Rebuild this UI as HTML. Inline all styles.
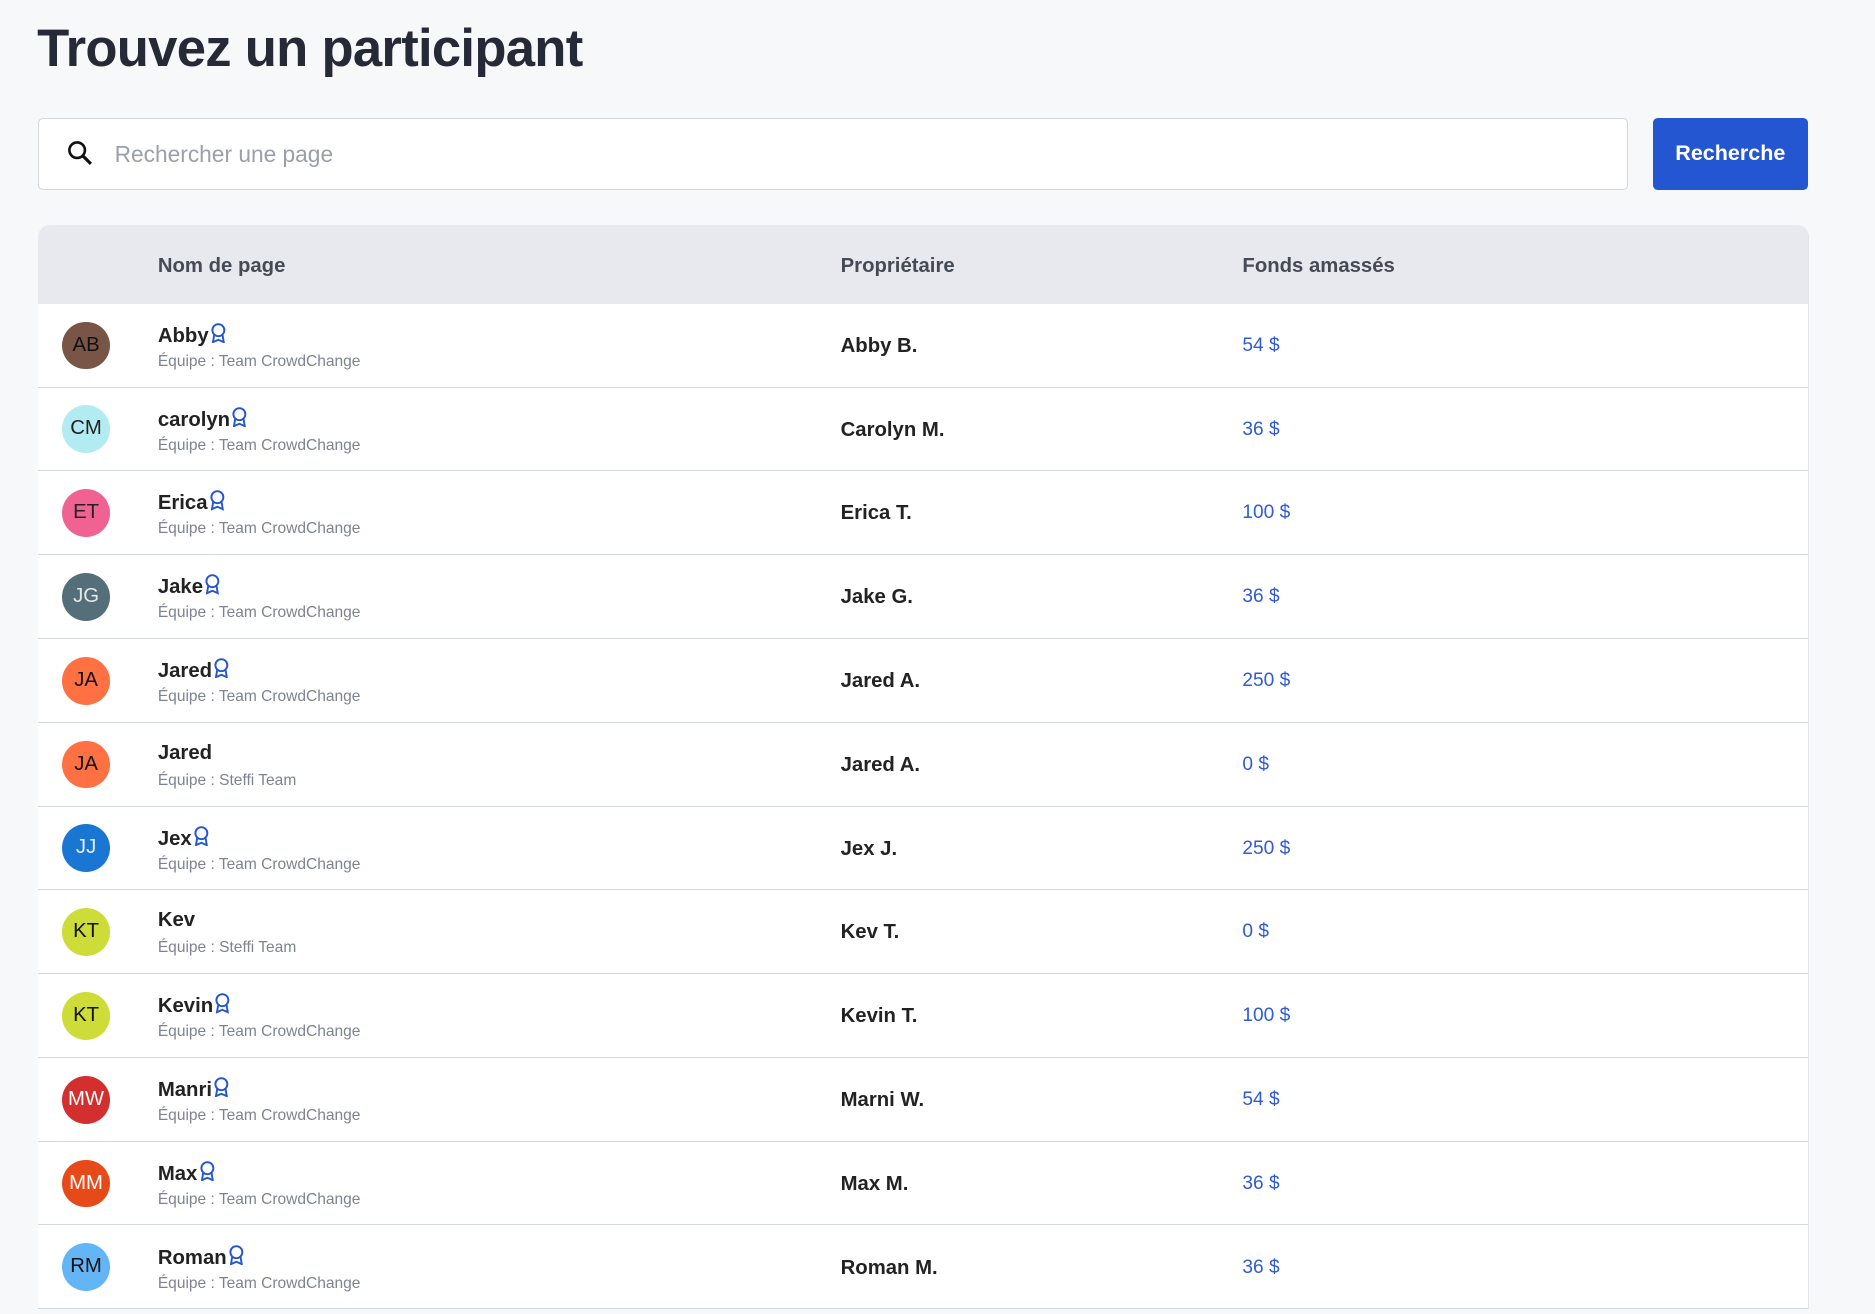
<!DOCTYPE html>
<html><head><meta charset="utf-8"><style>
html,body{margin:0;padding:0;background:#f7f8fa;}
body{width:1875px;height:1314px;overflow:hidden;font-family:"Liberation Sans",sans-serif;}
#w{zoom:1.19579;width:1568px;position:relative;height:1099px;}
h1{position:absolute;left:31px;top:15px;margin:0;font-size:44px;font-weight:bold;color:#252a36;letter-spacing:-0.6px;}
.search{position:absolute;left:32px;top:99px;width:1328px;height:58px;background:#fff;border:1px solid #d3d6dc;border-radius:4px;}
.search .ph{position:absolute;left:63px;top:18px;font-size:19px;color:#9a9fa8;}
.search svg{position:absolute;left:23px;top:17px;}
.btn{position:absolute;left:1382px;top:99px;width:130px;height:60px;background:#2356d0;border-radius:4px;color:#fff;font-weight:bold;font-size:18px;text-align:center;line-height:60px;}
.tbl{position:absolute;left:32px;top:188px;width:1480px;background:#fff;border-radius:10px 10px 0 0;border-right:1px solid #e2e4e8;overflow:hidden;}
.hd{height:66px;background:#e8e9ee;position:relative;font-size:17px;color:#454a55;font-weight:bold;}
.hd span{position:absolute;top:25px;}
.row{height:69.25px;border-bottom:1px solid #d3d8e0;position:relative;}
.av{position:absolute;left:20px;top:15px;width:40px;height:40px;border-radius:50%;text-align:center;line-height:40px;font-size:17px;}
.nm{position:absolute;left:100px;top:16px;font-size:17px;color:#222;font-weight:bold;}
.nm svg{vertical-align:-1px;margin-left:1px}
.sub{position:absolute;left:100px;top:41px;font-size:13px;color:#7d8390;}
.ow{position:absolute;left:671px;top:26px;font-size:17px;font-weight:bold;color:#222;}
.fd{position:absolute;left:1007px;top:26px;font-size:16px;color:#2f5bd3;}
</style></head><body><div id="w">
<h1>Trouvez un participant</h1>
<div class="search"><svg width="22" height="22" viewBox="0 0 22 22"><circle cx="8.5" cy="8.5" r="6.5" fill="none" stroke="#111" stroke-width="2.2"/><line x1="13.5" y1="13.5" x2="20" y2="20" stroke="#111" stroke-width="2.6"/></svg><span class="ph">Rechercher une page</span></div>
<div class="btn">Recherche</div>
<div class="tbl">
<div class="hd"><span style="left:100px">Nom de page</span><span style="left:671px">Propriétaire</span><span style="left:1007px">Fonds amassés</span></div>
<div class="row"><div class="av" style="background:#795548;color:#111">AB</div><div class="nm">Abby<svg width="14" height="17" viewBox="0 0 14 17"><circle cx="7" cy="6" r="5" fill="none" stroke="#2356d0" stroke-width="1.6"/><path d="M3.5 10 L2.5 16 L7 14 L11.5 16 L10.5 10" fill="none" stroke="#2356d0" stroke-width="1.6"/></svg></div><div class="sub">Équipe : Team CrowdChange</div><div class="ow">Abby B.</div><div class="fd">54 $</div></div>
<div class="row"><div class="av" style="background:#b2ebf2;color:#222">CM</div><div class="nm">carolyn<svg width="14" height="17" viewBox="0 0 14 17"><circle cx="7" cy="6" r="5" fill="none" stroke="#2356d0" stroke-width="1.6"/><path d="M3.5 10 L2.5 16 L7 14 L11.5 16 L10.5 10" fill="none" stroke="#2356d0" stroke-width="1.6"/></svg></div><div class="sub">Équipe : Team CrowdChange</div><div class="ow">Carolyn M.</div><div class="fd">36 $</div></div>
<div class="row"><div class="av" style="background:#f06292;color:#222">ET</div><div class="nm">Erica<svg width="14" height="17" viewBox="0 0 14 17"><circle cx="7" cy="6" r="5" fill="none" stroke="#2356d0" stroke-width="1.6"/><path d="M3.5 10 L2.5 16 L7 14 L11.5 16 L10.5 10" fill="none" stroke="#2356d0" stroke-width="1.6"/></svg></div><div class="sub">Équipe : Team CrowdChange</div><div class="ow">Erica T.</div><div class="fd">100 $</div></div>
<div class="row"><div class="av" style="background:#546e7a;color:#e8e8e8">JG</div><div class="nm">Jake<svg width="14" height="17" viewBox="0 0 14 17"><circle cx="7" cy="6" r="5" fill="none" stroke="#2356d0" stroke-width="1.6"/><path d="M3.5 10 L2.5 16 L7 14 L11.5 16 L10.5 10" fill="none" stroke="#2356d0" stroke-width="1.6"/></svg></div><div class="sub">Équipe : Team CrowdChange</div><div class="ow">Jake G.</div><div class="fd">36 $</div></div>
<div class="row"><div class="av" style="background:#ff7043;color:#111">JA</div><div class="nm">Jared<svg width="14" height="17" viewBox="0 0 14 17"><circle cx="7" cy="6" r="5" fill="none" stroke="#2356d0" stroke-width="1.6"/><path d="M3.5 10 L2.5 16 L7 14 L11.5 16 L10.5 10" fill="none" stroke="#2356d0" stroke-width="1.6"/></svg></div><div class="sub">Équipe : Team CrowdChange</div><div class="ow">Jared A.</div><div class="fd">250 $</div></div>
<div class="row"><div class="av" style="background:#ff7043;color:#111">JA</div><div class="nm">Jared</div><div class="sub">Équipe : Steffi Team</div><div class="ow">Jared A.</div><div class="fd">0 $</div></div>
<div class="row"><div class="av" style="background:#1976d2;color:#e8eefa">JJ</div><div class="nm">Jex<svg width="14" height="17" viewBox="0 0 14 17"><circle cx="7" cy="6" r="5" fill="none" stroke="#2356d0" stroke-width="1.6"/><path d="M3.5 10 L2.5 16 L7 14 L11.5 16 L10.5 10" fill="none" stroke="#2356d0" stroke-width="1.6"/></svg></div><div class="sub">Équipe : Team CrowdChange</div><div class="ow">Jex J.</div><div class="fd">250 $</div></div>
<div class="row"><div class="av" style="background:#cddc39;color:#111">KT</div><div class="nm">Kev</div><div class="sub">Équipe : Steffi Team</div><div class="ow">Kev T.</div><div class="fd">0 $</div></div>
<div class="row"><div class="av" style="background:#cddc39;color:#111">KT</div><div class="nm">Kevin<svg width="14" height="17" viewBox="0 0 14 17"><circle cx="7" cy="6" r="5" fill="none" stroke="#2356d0" stroke-width="1.6"/><path d="M3.5 10 L2.5 16 L7 14 L11.5 16 L10.5 10" fill="none" stroke="#2356d0" stroke-width="1.6"/></svg></div><div class="sub">Équipe : Team CrowdChange</div><div class="ow">Kevin T.</div><div class="fd">100 $</div></div>
<div class="row"><div class="av" style="background:#d32f2f;color:#fff">MW</div><div class="nm">Manri<svg width="14" height="17" viewBox="0 0 14 17"><circle cx="7" cy="6" r="5" fill="none" stroke="#2356d0" stroke-width="1.6"/><path d="M3.5 10 L2.5 16 L7 14 L11.5 16 L10.5 10" fill="none" stroke="#2356d0" stroke-width="1.6"/></svg></div><div class="sub">Équipe : Team CrowdChange</div><div class="ow">Marni W.</div><div class="fd">54 $</div></div>
<div class="row"><div class="av" style="background:#e64a19;color:#fff">MM</div><div class="nm">Max<svg width="14" height="17" viewBox="0 0 14 17"><circle cx="7" cy="6" r="5" fill="none" stroke="#2356d0" stroke-width="1.6"/><path d="M3.5 10 L2.5 16 L7 14 L11.5 16 L10.5 10" fill="none" stroke="#2356d0" stroke-width="1.6"/></svg></div><div class="sub">Équipe : Team CrowdChange</div><div class="ow">Max M.</div><div class="fd">36 $</div></div>
<div class="row"><div class="av" style="background:#64b5f6;color:#111">RM</div><div class="nm">Roman<svg width="14" height="17" viewBox="0 0 14 17"><circle cx="7" cy="6" r="5" fill="none" stroke="#2356d0" stroke-width="1.6"/><path d="M3.5 10 L2.5 16 L7 14 L11.5 16 L10.5 10" fill="none" stroke="#2356d0" stroke-width="1.6"/></svg></div><div class="sub">Équipe : Team CrowdChange</div><div class="ow">Roman M.</div><div class="fd">36 $</div></div>
</div>
</div></body></html>
